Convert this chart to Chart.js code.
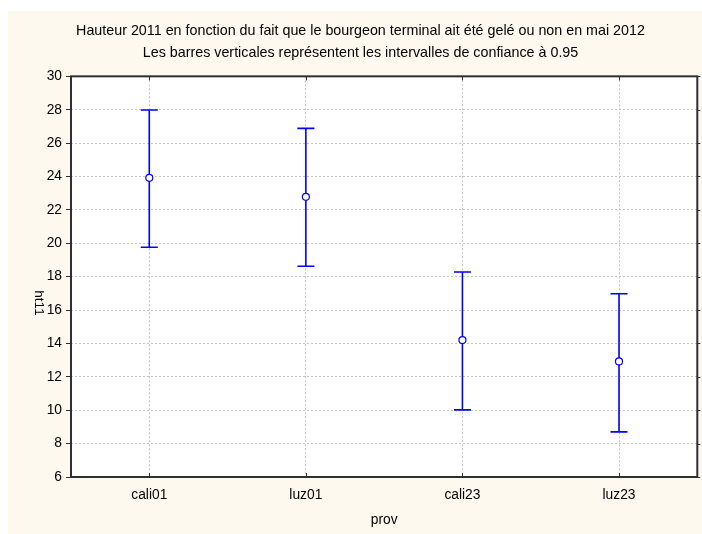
<!DOCTYPE html>
<html>
<head>
<meta charset="utf-8">
<script src="https://cdn.jsdelivr.net/npm/chart.js@4"></script>
<style>
  html, body { margin: 0; padding: 0; background: #ffffff; }
  #wrap { width: 702px; height: 534px; position: relative; }
</style>
</head>
<body>
<div id="wrap"><canvas id="c" width="702" height="534"></canvas></div>
<script>
const categories = ['cali01', 'luz01', 'cali23', 'luz23'];
const means = [23.92, 22.78, 14.20, 12.92];
const upperCI = [27.98, 26.88, 18.28, 16.98];
const lowerCI = [19.76, 18.62, 10.02, 8.70];
const yTicks = [6, 8, 10, 12, 14, 16, 18, 20, 22, 24, 26, 28, 30];
const titleLines = [
  'Hauteur 2011 en fonction du fait que le bourgeon terminal ait été gelé ou non en mai 2012',
  'Les barres verticales représentent les intervalles de confiance à 0.95'
];
const xTitle = 'prov';
const yTitle = 'ht11';

const FONT = "'Liberation Sans', Arial, sans-serif";
const BLUE = '#0000ff';

const bgPlugin = {
  id: 'bg',
  beforeDraw(chart) {
    const ctx = chart.ctx;
    ctx.save();
    ctx.fillStyle = '#ffffff';
    ctx.fillRect(0, 0, chart.width, chart.height);
    ctx.fillStyle = '#fef9ef';
    ctx.fillRect(8, 11, chart.width - 8, chart.height - 11);
    const a = chart.chartArea;
    ctx.fillStyle = '#ffffff';
    ctx.fillRect(a.left, a.top, a.right - a.left, a.bottom - a.top);
    ctx.restore();
  }
};

const errPlugin = {
  id: 'errbars',
  beforeDatasetsDraw(chart) {
    const ctx = chart.ctx;
    const xs = chart.scales.x, ys = chart.scales.y;
    ctx.save();
    ctx.strokeStyle = BLUE;
    ctx.lineWidth = 1.6;
    for (let i = 0; i < categories.length; i++) {
      const x = xs.getPixelForValue(i);
      const yt = ys.getPixelForValue(upperCI[i]);
      const yb = ys.getPixelForValue(lowerCI[i]);
      ctx.beginPath();
      ctx.moveTo(x, yt); ctx.lineTo(x, yb);
      ctx.moveTo(x - 8.5, yt); ctx.lineTo(x + 8.5, yt);
      ctx.moveTo(x - 8.5, yb); ctx.lineTo(x + 8.5, yb);
      ctx.stroke();
    }
    ctx.restore();
  },
  afterDraw(chart) {
    const ctx = chart.ctx;
    const a = chart.chartArea;
    const xs = chart.scales.x, ys = chart.scales.y;
    ctx.save();
    ctx.strokeStyle = '#303030';
    ctx.lineWidth = 2;
    ctx.strokeRect(a.left, a.top, a.right - a.left, a.bottom - a.top);
    ctx.lineWidth = 1;
    ctx.beginPath();
    yTicks.forEach(v => {
      const y = Math.round(ys.getPixelForValue(v)) + 0.5;
      ctx.moveTo(a.right, y); ctx.lineTo(a.right + 3, y);
    });
    categories.forEach((c, i) => {
      const x = Math.round(xs.getPixelForValue(i)) + 0.5;
      ctx.moveTo(x, a.bottom); ctx.lineTo(x, a.bottom - 4);
      ctx.moveTo(x, a.top); ctx.lineTo(x, a.top + 4);
    });
    ctx.stroke();
    ctx.fillStyle = '#000000';
    ctx.font = '13.5px ' + FONT;
    ctx.translate(39, 303);
    ctx.rotate(Math.PI / 2);
    ctx.textAlign = 'center';
    ctx.textBaseline = 'middle';
    ctx.fillText(yTitle, 0, 0);
    ctx.restore();
  }
};

new Chart(document.getElementById('c'), {
  type: 'line',
  data: {
    labels: categories,
    datasets: [{
      data: means,
      showLine: false,
      pointRadius: 3.5,
      pointHoverRadius: 3.5,
      pointBackgroundColor: '#ffffff',
      pointBorderColor: BLUE,
      pointBorderWidth: 1.2
    }]
  },
  plugins: [bgPlugin, errPlugin],
  options: {
    responsive: false,
    animation: false,
    events: [],
    layout: { padding: { left: 22, right: 3, top: 0, bottom: 0 } },
    plugins: {
      legend: { display: false },
      tooltip: { enabled: false },
      title: {
        display: true,
        text: titleLines,
        color: '#000000',
        font: { family: FONT, size: 14.3, weight: 'normal', lineHeight: 1.55 },
        padding: { top: 20, bottom: 12 }
      }
    },
    scales: {
      x: {
        type: 'category',
        offset: true,
        afterFit(s) { s.height = 57; },
        grid: {
          offset: false,
          color: '#c4c4c4',
          drawTicks: false
        },
        border: { display: false, dash: [2, 2] },
        ticks: { color: '#000000', padding: 10, font: { family: FONT, size: 13.8 } },
        title: {
          display: true,
          text: xTitle,
          color: '#000000',
          font: { family: FONT, size: 13.8 },
          padding: { top: 0, bottom: 6 }
        }
      },
      y: {
        min: 6,
        max: 30,
        afterFit(s) { s.width = 49; },
        afterBuildTicks(s) { s.ticks = yTicks.map(v => ({ value: v })); },
        grid: {
          color: '#c4c4c4',
          tickLength: 5,
          tickColor: '#303030'
        },
        border: { display: false, dash: [2, 2] },
        ticks: { color: '#000000', padding: 4, font: { family: FONT, size: 13.8 } }
      }
    }
  }
});
</script>
</body>
</html>
